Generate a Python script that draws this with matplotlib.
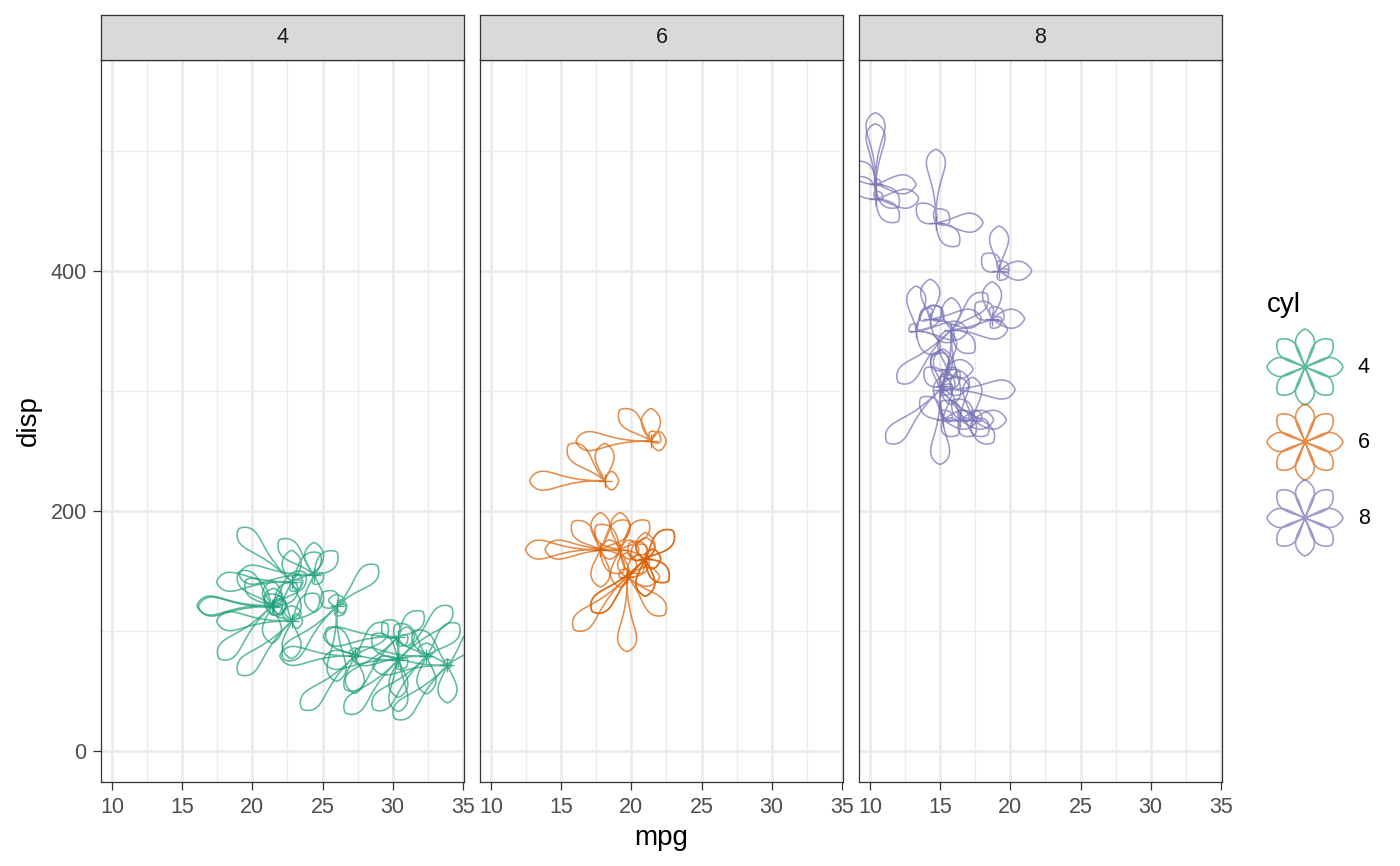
import numpy as np
import matplotlib
matplotlib.use("Agg")
import matplotlib.pyplot as plt
from matplotlib.path import Path
from matplotlib.collections import PathCollection
from matplotlib.transforms import IdentityTransform

plt.rcParams['font.family'] = ['Liberation Sans', 'DejaVu Sans']

# mtcars
mpg = [21.0, 21.0, 22.8, 21.4, 18.7, 18.1, 14.3, 24.4, 22.8, 19.2, 17.8, 16.4, 17.3, 15.2, 10.4, 10.4,
       14.7, 32.4, 30.4, 33.9, 21.5, 15.5, 15.2, 13.3, 19.2, 27.3, 26.0, 30.4, 15.8, 19.7, 15.0, 21.4]
cyl = [6, 6, 4, 6, 8, 6, 8, 4, 4, 6, 6, 8, 8, 8, 8, 8, 8, 4, 4, 4, 4, 8, 8, 8, 8, 4, 4, 4, 8, 6, 8, 4]
disp = [160.0, 160.0, 108.0, 258.0, 360.0, 225.0, 360.0, 146.7, 140.8, 167.6, 167.6, 275.8, 275.8, 275.8,
        472.0, 460.0, 440.0, 78.7, 75.7, 71.1, 120.1, 318.0, 304.0, 350.0, 400.0, 79.0, 120.3, 95.1,
        351.0, 145.0, 301.0, 121.0]
hp = [110, 110, 93, 110, 175, 105, 245, 62, 95, 123, 123, 180, 180, 180, 205, 215, 230, 66, 52, 65,
      97, 150, 150, 245, 175, 66, 91, 113, 264, 175, 335, 109]
drat = [3.90, 3.90, 3.85, 3.08, 3.15, 2.76, 3.21, 3.69, 3.92, 3.92, 3.92, 3.07, 3.07, 3.07, 2.93, 3.00,
        3.23, 4.08, 4.93, 4.22, 3.70, 2.76, 3.15, 3.73, 3.08, 4.08, 4.43, 3.77, 4.22, 3.62, 3.54, 4.11]
wt = [2.620, 2.875, 2.320, 3.215, 3.440, 3.460, 3.570, 3.190, 3.150, 3.440, 3.440, 4.070, 3.730, 3.780,
      5.250, 5.424, 5.345, 2.200, 1.615, 1.835, 2.465, 3.520, 3.435, 3.840, 3.845, 1.935, 2.140, 1.513,
      3.170, 2.770, 3.570, 2.780]
qsec = [16.46, 17.02, 18.61, 19.44, 17.02, 20.22, 15.84, 20.00, 22.90, 18.30, 18.90, 17.40, 17.60, 18.00,
        17.98, 17.82, 17.42, 19.47, 18.52, 19.90, 20.01, 16.87, 17.30, 15.41, 17.05, 18.90, 16.70, 16.90,
        14.50, 15.50, 14.60, 18.60]
vs = [0, 0, 1, 1, 0, 1, 0, 1, 1, 1, 1, 0, 0, 0, 0, 0, 0, 1, 1, 1, 1, 0, 0, 0, 0, 1, 0, 1, 0, 0, 0, 1]
am = [1, 1, 1, 0, 0, 0, 0, 0, 0, 0, 0, 0, 0, 0, 0, 0, 0, 1, 1, 1, 0, 0, 0, 0, 0, 1, 1, 1, 1, 1, 1, 1]
gear = [4, 4, 4, 3, 3, 3, 3, 4, 4, 4, 4, 3, 3, 3, 3, 3, 3, 4, 4, 4, 3, 3, 3, 3, 3, 4, 5, 5, 5, 5, 5, 4]
carb = [4, 4, 1, 1, 2, 1, 4, 2, 2, 4, 4, 3, 3, 3, 4, 4, 4, 1, 2, 1, 1, 2, 2, 4, 2, 1, 2, 2, 4, 6, 8, 2]

cyl_levels = [4, 6, 8]
cyl_colors = ['#1B9E77', '#D95F02', '#7570B3']

W, H = 1400, 866
fig = plt.figure(figsize=(W / 100, H / 100), dpi=100)

petal_vars = np.array([hp, drat, wt, qsec, vs, am, gear, carb], dtype=float)
lo = petal_vars.min(axis=1, keepdims=True)
hi = petal_vars.max(axis=1, keepdims=True)
petal_scaled = (petal_vars - lo) / (hi - lo)
MAXLEN = 75.0   # px
BULB = 19.0     # px


def petal_xy(L, w, ang):
    s = np.linspace(0, 1, 60)
    sp = max(0.5, 1 - 0.7 * w / L)
    p = np.log(0.5) / np.log(sp)
    h = w / 2 * np.sin(np.pi * s ** p) ** 0.7
    u = np.concatenate([s * L, (s * L)[::-1]])
    v = np.concatenate([h, -h[::-1]])
    c, sn = np.cos(ang), np.sin(ang)
    return np.column_stack([u * c - v * sn, u * sn + v * c])


def flower_path(lengths):
    verts, codes = [], []
    for k, L in enumerate(lengths):
        if L < 1.0:
            continue
        w = min(BULB, 1.3 * L)
        xy = petal_xy(L, w, k * np.pi / 4)
        verts.extend(xy)
        codes.extend([Path.MOVETO] + [Path.LINETO] * (len(xy) - 1))
    if not verts:
        return Path(np.zeros((1, 2)))
    return Path(np.array(verts), codes)


def fx(px):
    return px / W


def fy(py):
    return 1 - py / H


panel_left = [101, 480, 859]
panel_w = 363
panel_top, panel_bot = 59.5, 782.3
strip_top = 14.7

mpg_a = np.array(mpg)
disp_a = np.array(disp)
cyl_a = np.array(cyl)

for i, (lev, col) in enumerate(zip(cyl_levels, cyl_colors)):
    l = panel_left[i]
    ax = fig.add_axes([fx(l), fy(panel_bot), panel_w / W, (panel_bot - panel_top) / H])
    ax.set_xlim(9.225, 35.075)
    ax.set_ylim(-26.3, 576)
    ax.set_xticks([10, 15, 20, 25, 30, 35])
    ax.set_xticks([12.5, 17.5, 22.5, 27.5, 32.5], minor=True)
    ax.set_yticks([0, 200, 400])
    ax.set_yticks([100, 300, 500], minor=True)
    ax.grid(which='major', color='#EBEBEB', lw=2.0, zorder=0)
    ax.grid(which='minor', color='#EBEBEB', lw=1.0, zorder=0)
    ax.set_axisbelow(True)
    ax.tick_params(which='major', direction='out', length=5.8, width=0.9, color='#333333',
                   labelcolor='#4D4D4D', labelsize=15.5, pad=4.5)
    ax.tick_params(which='minor', length=0)
    if i > 0:
        ax.tick_params(axis='y', which='major', labelleft=False, left=False)
    for sp in ax.spines.values():
        sp.set_color('#333333')
        sp.set_linewidth(0.9)
        sp.set_zorder(5)

    sel = cyl_a == lev
    idx = np.where(sel)[0]
    paths = [flower_path(petal_scaled[:, j] * MAXLEN) for j in idx]
    pc = PathCollection(paths, offsets=np.column_stack([mpg_a[sel], disp_a[sel]]),
                        offset_transform=ax.transData, transform=IdentityTransform(),
                        facecolors='none', edgecolors=col, linewidths=1.15, alpha=0.7, zorder=3)
    ax.add_collection(pc, autolim=False)
    ax.plot(mpg_a[sel], disp_a[sel], ls='none', marker='+', ms=10, mew=1.0, color=col,
            alpha=0.8, zorder=4)

    # strip
    sax = fig.add_axes([fx(l), fy(panel_top), panel_w / W, (panel_top - strip_top) / H])
    sax.set_facecolor('#D9D9D9')
    sax.set_xticks([])
    sax.set_yticks([])
    for sp in sax.spines.values():
        sp.set_color('#333333')
        sp.set_linewidth(0.9)
    sax.text(0.5, 0.5, str(lev), transform=sax.transAxes, ha='center', va='center',
             fontsize=15.5, color='#1A1A1A')

fig.text(fx(661.5), fy(838), 'mpg', ha='center', va='center', fontsize=20)
fig.text(fx(28.5), fy(421), 'disp', ha='center', va='center', rotation=90, fontsize=20)

# legend
fig.text(fx(1267), fy(312), 'cyl', ha='left', va='baseline', fontsize=20)
leg_y = [367, 442, 518]
for lev, col, yy in zip(cyl_levels, cyl_colors, leg_y):
    lp = PathCollection([flower_path([38.0] * 8)], offsets=[[fx(1305), fy(yy)]],
                        offset_transform=fig.transFigure, transform=IdentityTransform(),
                        facecolors='none', edgecolors=col, linewidths=1.15, alpha=0.7)
    fig.add_artist(lp)
    fig.text(fx(1358), fy(yy), str(lev), ha='left', va='center', fontsize=15.5)

fig.savefig('out.png', dpi=100)
